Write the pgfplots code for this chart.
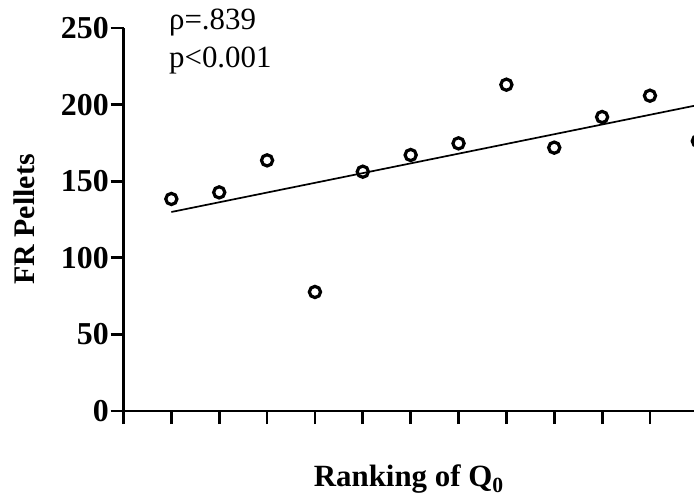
\documentclass[border=0pt]{standalone}
\usepackage{fontspec}
\setmainfont{Liberation Serif}
\usepackage{pgfplots}
\pgfplotsset{compat=1.18}
\begin{document}
\begin{tikzpicture}
\begin{axis}[
  at={(123.5bp,93bp)}, anchor=south west,
  scale only axis,
  width=570.5bp, height=383bp,
  xmin=0, xmax=11.92, ymin=0, ymax=250,
  axis x line=bottom, axis y line=left,
  axis line style={-, line width=2.8bp},
  every tick/.style={black, line width=2.8bp},
  tick align=outside,
  major tick length=13bp,
  xtick={0,1,...,11}, xticklabels={},
  ytick={0,50,...,250},
  /pgf/number format/assume math mode=true,
  yticklabel style={font=\bfseries\fontsize{32}{32}\selectfont, inner sep=1.5bp},
  ylabel={\textbf{FR Pellets}},
  ylabel style={font=\fontsize{30}{32}\selectfont, at={(axis description cs:0,0.5)}, anchor=south, yshift=85bp},
  xlabel={\textbf{Ranking of Q\textsubscript{0}}},
  xlabel style={font=\fontsize{31}{32}\selectfont, at={(axis description cs:0.5,0)}, anchor=north, yshift=-50bp},
  clip=false,
]
\addplot[only marks, mark=o, mark size=5.6bp, line width=3.2bp, black] coordinates {
 (1,138.4) (2,142.7) (3,163.6) (4,77.7) (5,156.2) (6,167.1)
 (7,174.7) (8,213.0) (9,171.9) (10,191.9) (11,205.8) (12,176.2)
};
\addplot[black, line width=1.7bp] coordinates {(1,129.9) (12,199.7)};
\node[anchor=base west, font=\fontsize{31}{34}\selectfont, inner sep=0pt] at (axis cs:0.95,248.7) {ρ=.839};
\node[anchor=base west, font=\fontsize{31}{34}\selectfont, inner sep=0pt] at (axis cs:0.95,223.9) {p<0.001};
\end{axis}
\pgfresetboundingbox
\path[use as bounding box] (0,0) rectangle (694bp,504bp);
\end{tikzpicture}
\end{document}
